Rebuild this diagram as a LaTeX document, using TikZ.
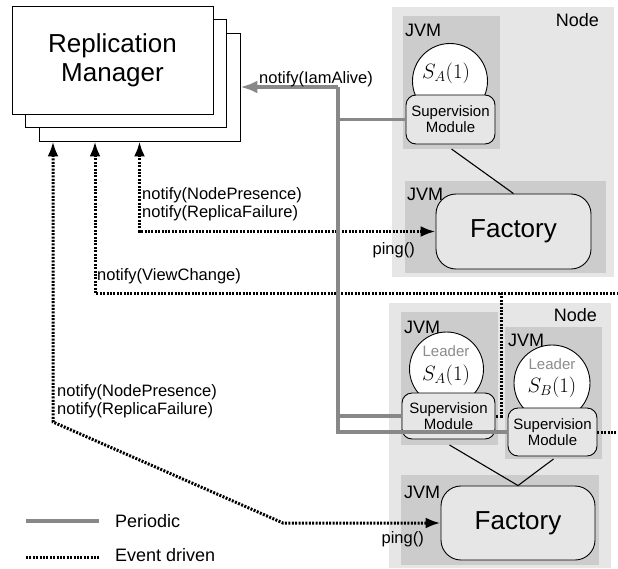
\documentclass[tikz,border=0pt]{standalone}
\usepackage{fontspec}
\setmainfont{Liberation Sans}
\usetikzlibrary{arrows.meta}
\tikzset{>={Latex[length=15pt,width=11pt]}}
\definecolor{nodegray}{HTML}{E6E6E6}
\definecolor{jvmgray}{HTML}{CCCCCC}
\definecolor{pgray}{HTML}{888888}
\definecolor{lgray}{HTML}{8C8C8C}
\newcommand\fs[2]{\fontsize{#1}{#2}\selectfont}
\tikzstyle{node box}=[fill=nodegray,inner sep=0,outer sep=0]
\tikzstyle{jvm box}=[fill=jvmgray,inner sep=0,outer sep=0]
\tikzstyle{tag}=[inner sep=0,font=\fs{18}{20}]
\tikzstyle{instance}=[circle,draw,fill=white,line width=0.9pt,inner sep=0,minimum size=75pt]
\tikzstyle{module}=[draw,fill=nodegray,rounded corners=10pt,line width=0.9pt,align=center,inner sep=0,font=\fs{15}{16}]
\tikzstyle{factory}=[draw,fill=nodegray,rounded corners=20pt,line width=0.9pt,inner sep=0,font=\fs{26}{28}]
\tikzstyle{manager}=[draw,fill=white,line width=0.9pt,minimum width=201pt,minimum height=108pt,inner sep=0,align=center,font=\fs{26}{29}]
\tikzstyle{msg}=[inner sep=0,anchor=west,align=left,font=\fs{16.5}{18}]
\tikzstyle{periodic}=[draw=pgray,line width=3.2pt]
\tikzstyle{event}=[draw=black,line width=3pt,dash pattern=on 2pt off 1.4pt]

\begin{document}
\begin{tikzpicture}[x=1pt,y=-1pt]
  \useasboundingbox (0,0) rectangle (618,568);
  % upper node
  \node[node box,minimum width=222pt,minimum height=270pt] (node1) at (503,142) {};
  \node[jvm box,minimum width=97pt,minimum height=133pt] (jvm1) at (451.5,82.5) {};
  \node[instance] (sa1) at (450,81) {};
  \node[font=\fs{21}{22}] (sa1txt) at (446,73) {$S_A(1)$};
  \node[module,minimum width=89pt,minimum height=49pt] (sm1) at (450.5,119.5) {Supervision\\Module};
  \node[jvm box,minimum width=201pt,minimum height=92pt] (jvm2) at (505.5,227) {};
  \node[factory,minimum width=155pt,minimum height=75pt] (fac1) at (513.5,231.5) {Factory};
  \draw[line width=1.1pt] (jvm1.south) -- (fac1.north);
  \node[tag,anchor=east] (node1lbl) at ([xshift=-15pt,yshift=-13pt]node1.north east) {Node};
  \node[tag,anchor=west] (jvm1lbl) at ([xshift=2pt,yshift=-14pt]jvm1.north west) {JVM};
  \node[tag,anchor=west] (jvm2lbl) at ([xshift=2pt,yshift=-13pt]jvm2.north west) {JVM};
  % lower node
  \node[node box,minimum width=222pt,minimum height=265pt] (node2) at (500,435.5) {};
  \node[jvm box,minimum width=97pt,minimum height=133pt] (jvmA) at (449.5,378.5) {};
  \node[instance,minimum size=74pt] (sa2) at (446.5,369) {};
  \node[font=\fs{15}{16},text=lgray] (sa2lead) at (446,351) {Leader};
  \node[font=\fs{21}{22}] (sa2txt) at (446,375) {$S_A(1)$};
  \node[module,minimum width=93pt,minimum height=46pt] (smA) at (448.5,416) {Supervision\\Module};
  \node[jvm box,minimum width=97pt,minimum height=132pt] (jvmB) at (553.5,393) {};
  \node[instance,minimum size=76pt] (sb2) at (552,383) {};
  \node[font=\fs{15}{16},text=lgray] (sb2lead) at (552,364) {Leader};
  \node[font=\fs{21}{22}] (sb2txt) at (552,387) {$S_B(1)$};
  \node[module,minimum width=89pt,minimum height=48pt] (smB) at (552.5,432) {Supervision\\Module};
  \node[jvm box,minimum width=198pt,minimum height=90pt] (jvm3) at (500,520) {};
  \node[factory,minimum width=154pt,minimum height=74pt] (fac2) at (518,523) {Factory};
  \draw[line width=1.1pt] (jvmA.south) -- (fac2.north) -- (jvmB.south);
  \node[tag,anchor=east] (node2lbl) at ([xshift=-14pt,yshift=-12pt]node2.north east) {Node};
  \node[tag,anchor=west] (jvmAlbl) at ([xshift=3pt,yshift=-15pt]jvmA.north west) {JVM};
  \node[tag,anchor=west] (jvmBlbl) at ([xshift=3pt,yshift=-13pt]jvmB.north west) {JVM};
  \node[tag,anchor=west] (jvm3lbl) at ([xshift=3pt,yshift=-17pt]jvm3.north west) {JVM};
  % replication manager
  \node[manager] (rmC) at (139.5,87) {};
  \node[manager] (rmB) at (126,73.5) {};
  \node[manager] (rmA) at (112.5,60) {Replication\\Manager};
  % event driven
  \coordinate (np) at (53,422);
  \coordinate (npBend) at (283,523);
  \coordinate (vc) at (95,293);
  \coordinate (vcDrop) at (501,293);
  \coordinate (vcEnd) at (618,293);
  \draw[event,<->] (rmC.south) |- (fac1.west);
  \draw[event,<->] (rmC.south -| np) -- (np) -- (npBend) -- (fac2.west);
  \draw[event,<-] (rmC.south -| vc) -- (vc) -- (vcEnd);
  \draw[event] (vcDrop) |- (smA.east);
  \draw[event] (smB.east) -- (smB.east -| vcEnd);
  % periodic
  \coordinate (bus) at (338,87);
  \draw[periodic,->,>={Latex[length=17pt,width=13pt]}] (bus) -- (rmC.east);
  \draw[periodic] (bus) -- (bus |- smB.west) -- (smB.west);
  \draw[periodic] (bus |- sm1.west) -- (sm1.west);
  \draw[periodic] (bus |- smA.west) -- (smA.west);
  % messages
  \node[msg] (alive) at (259,79) {notify(IamAlive)};
  \node[msg] (np1) at (142,204.5) {notify(NodePresence)\\notify(ReplicaFailure)};
  \node[msg] (view) at (97,276) {notify(ViewChange)};
  \node[msg] (np2) at (57,401) {notify(NodePresence)\\notify(ReplicaFailure)};
  \node[msg,anchor=east] (ping1) at (415,250) {ping()};
  \node[msg,anchor=east] (ping2) at (424,539) {ping()};
  % legend
  \node[tag,anchor=west] (lgPer) at (115,521) {Periodic};
  \node[tag,anchor=west] (lgEvt) at (115,555) {Event driven};
  \draw[periodic] ([xshift=-89pt]lgPer.west) -- ([xshift=-16pt]lgPer.west);
  \draw[event] ([xshift=-89pt,yshift=-2pt]lgEvt.west) -- ([xshift=-16pt,yshift=-2pt]lgEvt.west);
\end{tikzpicture}
\end{document}
